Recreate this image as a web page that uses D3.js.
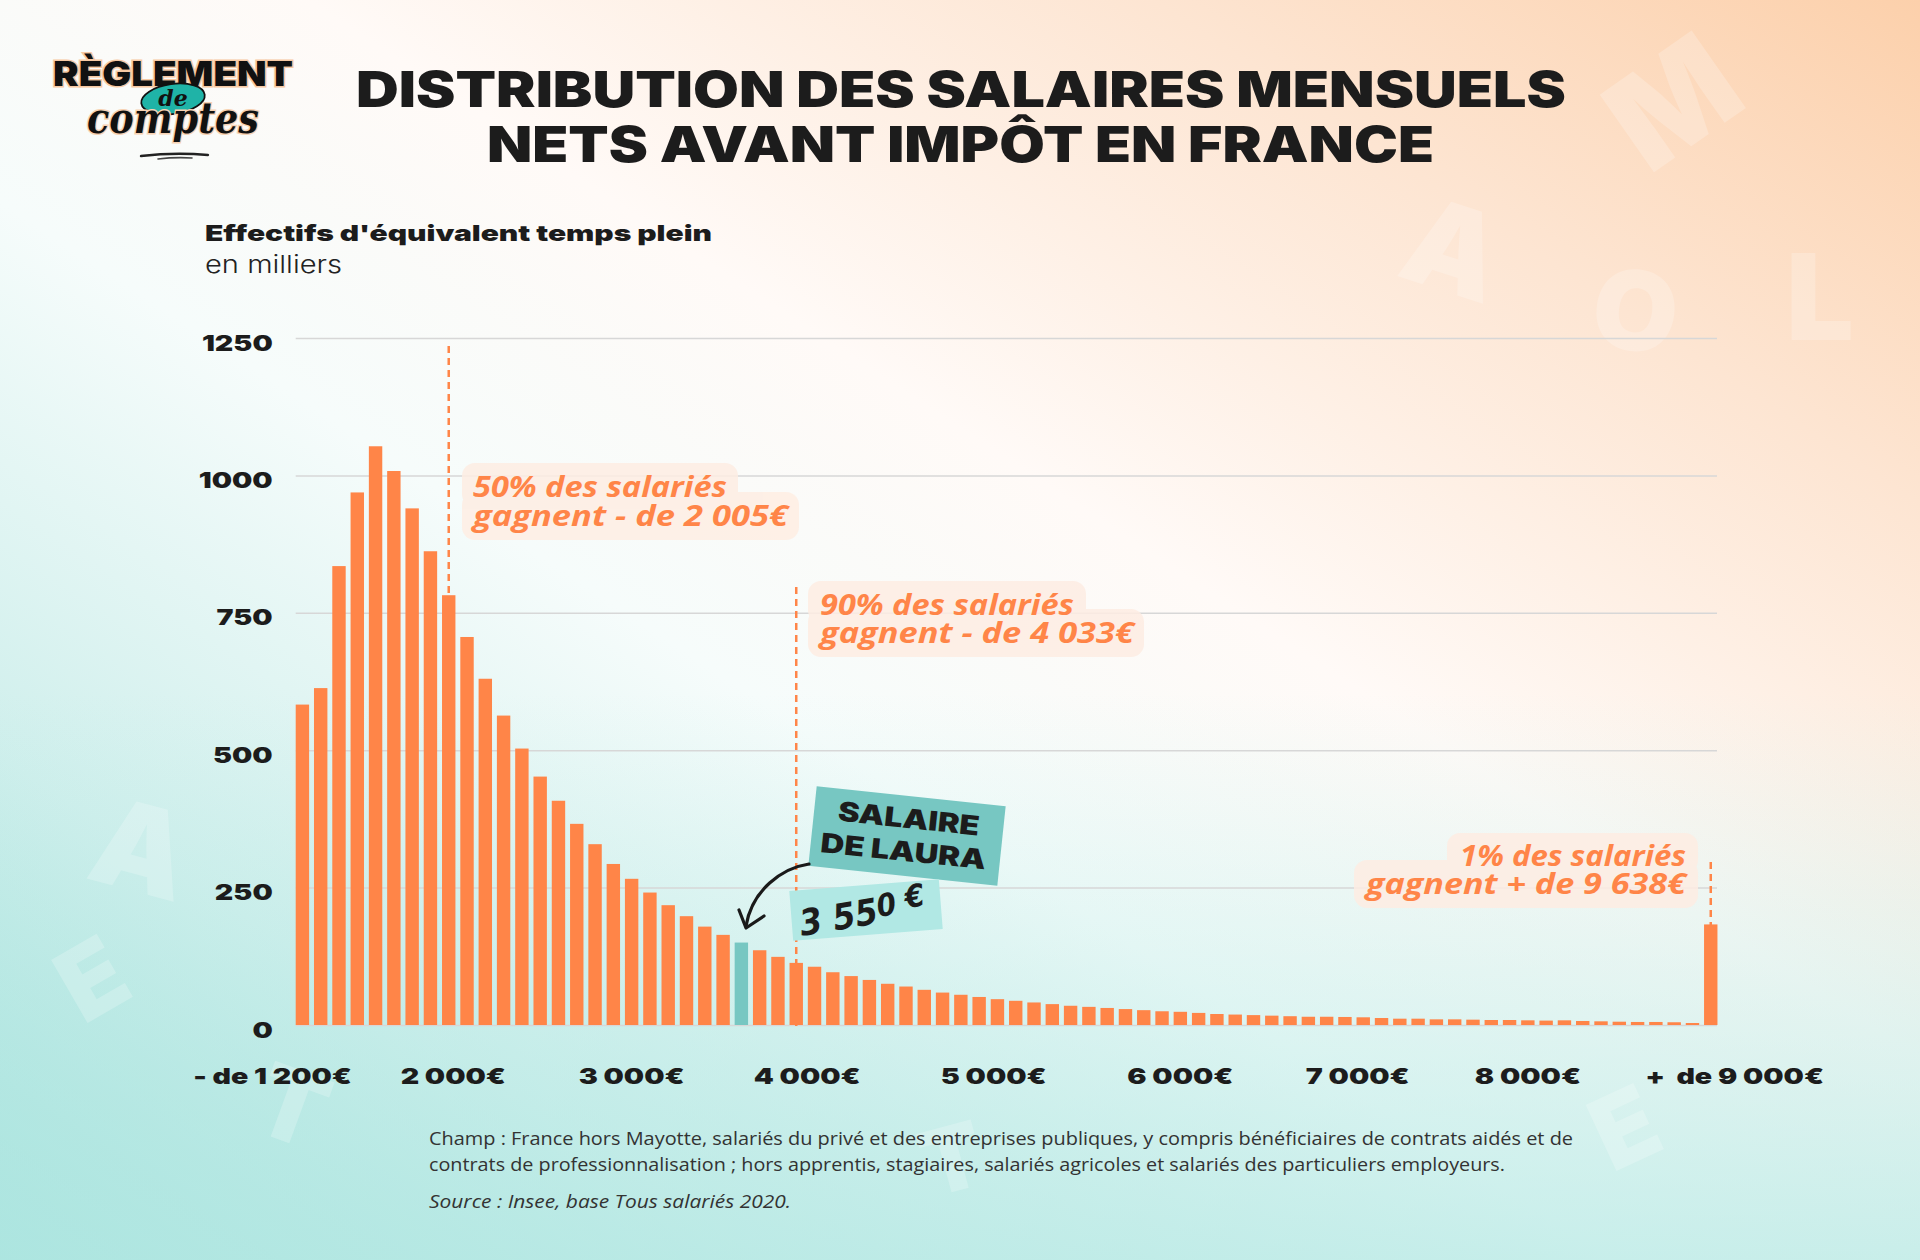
<!DOCTYPE html>
<html><head><meta charset="utf-8">
<script src="https://cdn.jsdelivr.net/npm/d3@7"></script>
<style>html,body{margin:0;padding:0;background:#fff}svg{display:block}</style>
</head><body>
<svg id="chart" width="1920" height="1260"></svg>
<script>
// ---------- DATA ----------
const categories = ["- de 1200"];
for (let i = 1; i <= 76; i++) categories.push(`${1100 + 100 * i}-${1200 + 100 * i}`);
categories.push("+ de 9000");

// effectifs (milliers) per bin
const values = [583, 613, 835, 969, 1053, 1008, 940, 862, 782, 706,
  630, 563, 503, 452, 408, 366, 329, 293, 266, 241,
  218, 198, 179, 164, 150, 136, 124, 113, 106, 96,
  89, 82, 75, 70, 64, 59, 55, 51, 47, 44,
  41, 38, 35, 33, 31, 29, 27, 25, 24, 22,
  20, 19, 18, 17, 16, 15, 15, 14.6, 14, 12.7,
  11.5, 11.5, 10.3, 10.3, 9.7, 9.1, 9.1, 8.5, 8, 8.5,
  7.3, 6.7, 6, 5.5, 5.5, 5, 3.6, 183];

const highlightBin = "3500-3600";           // salaire de Laura (3 550 €)
const yTicks = [0, 250, 500, 750, 1000, 1250];
const xTickLabels = ["- de 1 200€", "2 000€", "3 000€", "4 000€", "5 000€", "6 000€", "7 000€", "8 000€", "+  de 9 000€"];
const xTickBins = [-1.63, 8.25, 18.0, 27.6, 37.8, 48.0, 57.7, 67.0, 78.3]; // label position in bin units
const markerBins = ["1900-2000", "3800-3900", "+ de 9000"];
const markerLines = [["50% des salariés", "gagnent - de 2 005€"],
                     ["90% des salariés", "gagnent - de 4 033€"],
                     ["1% des salariés", "gagnent + de 9 638€"]];

// ---------- STYLE ----------
const ORANGE = "#FF8548", TEAL = "#77C7C2", TEAL_LIGHT = "#B1E8E4", INK = "#1c1c1c";
const HEAVY = "Inter, 'DejaVu Sans', sans-serif";

const svg = d3.select("#chart");
const defs = svg.append("defs");

// background
const g1 = defs.append("linearGradient").attr("id", "bg").attr("x1", 1).attr("y1", 0).attr("x2", 0).attr("y2", 1);
[[0, "#FCD0AB"], [0.2, "#FDE5D2"], [0.42, "#FFFAF7"], [0.58, "#F6FCFB"], [0.8, "#CFEFEC"], [1, "#9EDFD9"]]
  .forEach(([o, c]) => g1.append("stop").attr("offset", o).attr("stop-color", c));
const g2 = defs.append("linearGradient").attr("id", "bg2").attr("x1", 0).attr("y1", 0).attr("x2", 0).attr("y2", 1);
g2.append("stop").attr("offset", 0.55).attr("stop-color", "#BDEBE6").attr("stop-opacity", 0);
g2.append("stop").attr("offset", 1).attr("stop-color", "#B3E8E3").attr("stop-opacity", 0.7);

svg.append("rect").attr("width", 1920).attr("height", 1260).attr("fill", "url(#bg)");
svg.append("rect").attr("width", 1920).attr("height", 1260).attr("fill", "url(#bg2)");

// faint decorative letters (kept inside the canvas)
const deco = [["M", 1700, 140, -35, 130], ["A", 1440, 290, 18, 120], ["L", 1820, 340, 0, 120], ["O", 1630, 350, 8, 110],
  ["A", 130, 890, 15, 120], ["E", 110, 1010, -30, 100], ["T", 280, 1140, 20, 100], ["T", 960, 1190, -15, 90],
  ["E", 1640, 1160, -25, 100]];
svg.append("g").selectAll("text").data(deco).join("text")
  .attr("x", d => d[1]).attr("y", d => d[2])
  .attr("transform", d => `rotate(${d[3]},${d[1]},${d[2]})`)
  .attr("font-family", HEAVY).attr("font-weight", 900).attr("font-size", d => d[4])
  .attr("text-anchor", "middle").attr("fill", "#ffffff").attr("fill-opacity", 0.22)
  .text(d => d[0]);

// helpers
function fit(sel, width) {
  sel.attr("textLength", width).attr("lengthAdjust", "spacingAndGlyphs");
  return sel;
}
function stretch(sel, factor) {
  sel.each(function () {
    const w = this.getComputedTextLength();
    d3.select(this).attr("textLength", w * factor).attr("lengthAdjust", "spacingAndGlyphs");
  });
  return sel;
}

// ---------- LOGO ----------
const logo = svg.append("g");
fit(logo.append("text").attr("x", 53).attr("y", 86)
  .attr("font-family", HEAVY).attr("font-weight", 900).attr("font-size", 34)
  .attr("fill", "#111").attr("stroke", "#F7C9A3").attr("stroke-width", 3).attr("paint-order", "stroke")
  .text("RÈGLEMENT"), 240);
logo.append("ellipse").attr("cx", 173).attr("cy", 99).attr("rx", 32).attr("ry", 15)
  .attr("transform", "rotate(-8,173,99)").attr("fill", "#1FB3A7").attr("stroke", "#111").attr("stroke-width", 1.8);
logo.append("text").attr("x", 173).attr("y", 106).attr("text-anchor", "middle")
  .attr("font-family", "'DejaVu Serif', serif").attr("font-style", "italic").attr("font-weight", 700)
  .attr("font-size", 22).attr("fill", "#111").text("de");
fit(logo.append("text").attr("x", 87).attr("y", 133)
  .attr("font-family", "'DejaVu Serif', serif").attr("font-style", "italic").attr("font-weight", 700)
  .attr("font-size", 42).attr("fill", "#111").attr("stroke", "#F7D2B3").attr("stroke-width", 3).attr("paint-order", "stroke")
  .text("comptes"), 172);
logo.append("path").attr("d", "M141,156 Q175,152 208,155").attr("stroke", "#222").attr("stroke-width", 2.4).attr("fill", "none").attr("stroke-linecap", "round");
logo.append("path").attr("d", "M158,159 Q175,157 192,158").attr("stroke", "#444").attr("stroke-width", 1.6).attr("fill", "none").attr("stroke-linecap", "round");

// ---------- TITLE ----------
fit(svg.append("text").attr("x", 356).attr("y", 107)
  .attr("font-family", HEAVY).attr("font-weight", 900).attr("font-size", 49).attr("fill", INK)
  .text("DISTRIBUTION DES SALAIRES MENSUELS"), 1210);
fit(svg.append("text").attr("x", 487).attr("y", 162)
  .attr("font-family", HEAVY).attr("font-weight", 900).attr("font-size", 49).attr("fill", INK)
  .text("NETS AVANT IMPÔT EN FRANCE"), 947);

fit(svg.append("text").attr("x", 205).attr("y", 241)
  .attr("font-family", HEAVY).attr("font-weight", 900).attr("font-size", 22).attr("fill", INK)
  .text("Effectifs d'équivalent temps plein"), 507);
fit(svg.append("text").attr("x", 205).attr("y", 273)
  .attr("font-family", "Inter, sans-serif").attr("font-weight", 300).attr("font-size", 24).attr("fill", "#222")
  .text("en milliers"), 137);

// ---------- SCALES ----------
const x = d3.scaleBand().domain(categories).range([293.26, 1719.9]).paddingInner(0.267).paddingOuter(0.1335);
const y = d3.scaleLinear().domain([0, 1250]).range([1025, 338]);
const xCenter = d3.scaleLinear().domain([0, categories.length - 1])
  .range([x(categories[0]) + x.bandwidth() / 2, x(categories[categories.length - 1]) + x.bandwidth() / 2]);

// y axis + gridlines
const gridLeft = x(categories[0]), gridRight = 1717;
const yAxis = svg.append("g").attr("transform", `translate(${gridLeft},0)`)
  .call(d3.axisLeft(y).tickValues(yTicks).tickSize(-(gridRight - gridLeft)).tickPadding(23).tickFormat(d3.format("d")));
yAxis.select(".domain").remove();
yAxis.selectAll(".tick line").attr("stroke", "#D7D7D7").attr("stroke-width", 1.5);
yAxis.selectAll(".tick text").attr("font-family", HEAVY).attr("font-weight", 900).attr("font-size", 22)
  .attr("fill", INK).attr("dy", "0.55em");
stretch(yAxis.selectAll(".tick text"), 1.3);

// marker dashed lines (behind bars)
const markerTop = [346, 587, 862];
svg.append("g").selectAll("line").data(markerBins).join("line")
  .attr("x1", d => x(d) + x.bandwidth() / 2).attr("x2", d => x(d) + x.bandwidth() / 2)
  .attr("y1", (d, i) => markerTop[i]).attr("y2", y(0) + 3)
  .attr("stroke", ORANGE).attr("stroke-width", 2.5).attr("stroke-dasharray", "7,5");

// bars
svg.append("g").selectAll("rect").data(categories).join("rect")
  .attr("x", d => x(d)).attr("width", x.bandwidth())
  .attr("y", (d, i) => y(values[i])).attr("height", (d, i) => y(0) - y(values[i]))
  .attr("fill", d => d === highlightBin ? TEAL : ORANGE);

// x labels
const xl = svg.append("g").selectAll("text").data(xTickLabels).join("text")
  .attr("x", (d, i) => xCenter(xTickBins[i])).attr("y", 1084).attr("text-anchor", "middle")
  .attr("font-family", HEAVY).attr("font-weight", 900).attr("font-size", 22).attr("fill", INK)
  .attr("xml:space", "preserve").style("white-space", "pre")
  .text(d => d);
stretch(xl, 1.3);

// ---------- ANNOTATIONS ----------
const notes = [
  { anchor: "start", tx: 473, base: [497, 526], widths: [254, 315],
    boxes: [[462, 463, 276, 44], [462, 492, 337, 48]] },
  { anchor: "start", tx: 820, base: [615, 643], widths: [254, 314],
    boxes: [[808, 581, 278, 42], [808, 609, 336, 48]] },
  { anchor: "end", tx: 1686, base: [866, 894], widths: [226, 320],
    boxes: [[1447, 833, 251, 40], [1354, 860, 344, 48]] }
];
notes.forEach((n, k) => {
  const g = svg.append("g");
  const bg = g.append("g").attr("opacity", 0.85);
  n.boxes.forEach(b => bg.append("rect").attr("x", b[0]).attr("y", b[1]).attr("width", b[2]).attr("height", b[3])
    .attr("rx", 13).attr("fill", "#FEEDE3"));
  markerLines[k].forEach((t, j) => {
    fit(g.append("text").attr("x", n.tx).attr("y", n.base[j]).attr("text-anchor", n.anchor)
      .attr("font-family", "'Open Sans', sans-serif").attr("font-weight", 700).attr("font-style", "italic")
      .attr("font-size", 28).attr("fill", ORANGE).text(t), n.widths[j]);
  });
});

// Laura annotation
const laura = svg.append("g").attr("transform", "translate(907,836) rotate(6)");
laura.append("rect").attr("x", -95).attr("y", -40).attr("width", 190).attr("height", 80).attr("fill", TEAL);
fit(laura.append("text").attr("x", 0).attr("y", -8).attr("text-anchor", "middle")
  .attr("font-family", HEAVY).attr("font-weight", 900).attr("font-size", 27).attr("fill", INK).text("SALAIRE"), 142);
fit(laura.append("text").attr("x", -2).attr("y", 25).attr("text-anchor", "middle")
  .attr("font-family", HEAVY).attr("font-weight", 900).attr("font-size", 27).attr("fill", INK).text("DE LAURA"), 166);

const amount = svg.append("g").attr("transform", "translate(866,910) rotate(-4.5)");
amount.append("rect").attr("x", -75).attr("y", -25).attr("width", 150).attr("height", 50).attr("fill", TEAL_LIGHT);
const at = amount.append("text").attr("x", -4).attr("y", 15).attr("text-anchor", "middle")
  .attr("transform", "rotate(-5)")
  .attr("font-family", "'DejaVu Sans Condensed', 'DejaVu Sans', sans-serif").attr("font-weight", 700)
  .attr("font-style", "italic").attr("font-size", 36).attr("fill", INK);
at.append("tspan").text("3 55");
at.append("tspan").attr("dy", -6).attr("font-size", 31).text("0");
at.append("tspan").attr("dy", -4).attr("font-size", 31).text(" €");

// arrow
svg.append("path").attr("d", "M809,864 C782,868 752,890 746,926")
  .attr("fill", "none").attr("stroke", "#1a1a1a").attr("stroke-width", 3.2).attr("stroke-linecap", "round");
svg.append("path").attr("d", "M739,910 L746,928 L764,916")
  .attr("fill", "none").attr("stroke", "#1a1a1a").attr("stroke-width", 3.2)
  .attr("stroke-linecap", "round").attr("stroke-linejoin", "round");

// ---------- FOOTER ----------
const foot = svg.append("g").attr("font-family", "'Open Sans', sans-serif").attr("font-size", 18).attr("fill", "#333");
fit(foot.append("text").attr("x", 429).attr("y", 1145)
  .text("Champ : France hors Mayotte, salariés du privé et des entreprises publiques, y compris bénéficiaires de contrats aidés et de"), 1144);
fit(foot.append("text").attr("x", 429).attr("y", 1171)
  .text("contrats de professionnalisation ; hors apprentis, stagiaires, salariés agricoles et salariés des particuliers employeurs."), 1076);
fit(foot.append("text").attr("x", 429).attr("y", 1208).attr("font-style", "italic")
  .text("Source : Insee, base Tous salariés 2020."), 362);
</script>
</body></html>
